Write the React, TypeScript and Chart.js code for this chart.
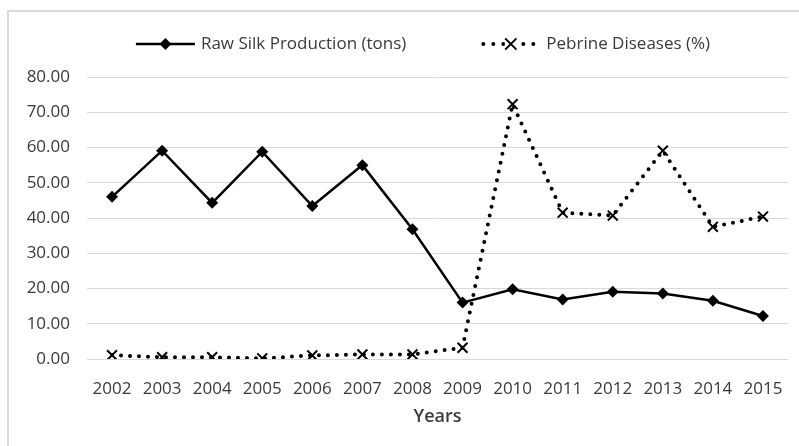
import React, { useEffect, useRef } from "react";
import { Chart, registerables } from "chart.js";

Chart.register(...registerables);

const years = ["2002", "2003", "2004", "2005", "2006", "2007", "2008", "2009", "2010", "2011", "2012", "2013", "2014", "2015"];
const rawSilk = [46.0, 59.1, 44.3, 58.8, 43.4, 55.0, 36.8, 16.0, 19.8, 16.9, 19.1, 18.6, 16.5, 12.2];
const pebrine = [1.1, 0.5, 0.5, 0.2, 1.0, 1.3, 1.3, 3.2, 72.3, 41.5, 40.7, 59.1, 37.5, 40.4];
const seriesLabels = ["Raw Silk Production (tons)", "Pebrine Diseases (%)"];
const xTitle = "Years";
const yMin = 0;
const yMax = 80;
const yStep = 10;

const FONT = "'Open Sans', 'Noto Sans', sans-serif";
const TEXT = "#3a3a3a";

function drawDiamond(ctx: CanvasRenderingContext2D, x: number, y: number, r: number) {
  ctx.beginPath();
  ctx.moveTo(x, y - r);
  ctx.lineTo(x + r, y);
  ctx.lineTo(x, y + r);
  ctx.lineTo(x - r, y);
  ctx.closePath();
  ctx.fill();
}

function drawCross(ctx: CanvasRenderingContext2D, x: number, y: number, r: number) {
  const d = r * Math.SQRT1_2;
  ctx.beginPath();
  ctx.moveTo(x - d, y - d);
  ctx.lineTo(x + d, y + d);
  ctx.moveTo(x + d, y - d);
  ctx.lineTo(x - d, y + d);
  ctx.stroke();
}

const legendPlugin = {
  id: "customLegend",
  afterDraw(chart: any) {
    const ctx: CanvasRenderingContext2D = chart.ctx;
    ctx.save();
    ctx.font = `17px ${FONT}`;
    const dsets = chart.data.datasets;
    const symW = 59;
    const gap = 6;
    const itemGap = 75;
    const widths = dsets.map((d: any) => ctx.measureText(d.label).width);
    const total = widths.reduce((s: number, w: number) => s + symW + gap + w, 0) + itemGap * (dsets.length - 1);
    let x = 423 - total / 2;
    const y = 44;
    dsets.forEach((ds: any, i: number) => {
      ctx.strokeStyle = "#000";
      ctx.fillStyle = "#000";
      ctx.lineWidth = ds.borderWidth;
      ctx.lineCap = ds.borderCapStyle || "butt";
      if (ds.borderDash) {
        ctx.setLineDash([0, 10]);
        ctx.beginPath();
        ctx.moveTo(x + 2, y);
        ctx.lineTo(x + symW, y);
        ctx.stroke();
      } else {
        ctx.setLineDash([]);
        ctx.beginPath();
        ctx.moveTo(x, y);
        ctx.lineTo(x + symW, y);
        ctx.stroke();
      }
      ctx.setLineDash([]);
      ctx.lineCap = "butt";
      const cx = x + symW / 2;
      if (ds.pointStyle === "rectRot") {
        drawDiamond(ctx, cx, y, 6);
      } else {
        ctx.fillStyle = "#fff";
        ctx.fillRect(cx - 6, y - 6, 12, 12);
        ctx.lineWidth = ds.pointBorderWidth;
        drawCross(ctx, cx, y, 8);
      }
      ctx.fillStyle = TEXT;
      ctx.textBaseline = "middle";
      ctx.textAlign = "left";
      ctx.fillText(ds.label, x + symW + gap, y);
      x += symW + gap + widths[i] + itemGap;
    });
    ctx.restore();
  },
};

export default function App() {
  const ref = useRef<HTMLCanvasElement>(null);

  useEffect(() => {
    if (!ref.current) return;
    Chart.defaults.font.family = FONT;
    const chart = new Chart(ref.current, {
      type: "line",
      data: {
        labels: years,
        datasets: [
          {
            label: seriesLabels[0],
            data: rawSilk,
            borderColor: "#000",
            backgroundColor: "#000",
            borderWidth: 2.5,
            pointStyle: "rectRot",
            pointRadius: 6,
            pointBorderWidth: 0,
            pointBackgroundColor: "#000",
            pointBorderColor: "#000",
            tension: 0,
          } as any,
          {
            label: seriesLabels[1],
            data: pebrine,
            borderColor: "#000",
            backgroundColor: "#000",
            borderWidth: 4,
            borderDash: [0, 9],
            borderCapStyle: "round",
            pointStyle: "crossRot",
            pointRadius: 7,
            pointBorderWidth: 2,
            pointBorderColor: "#000",
            tension: 0,
          } as any,
        ],
      },
      options: {
        animation: false,
        responsive: false,
        devicePixelRatio: 1,
        layout: { padding: { top: 77, right: 11, left: 0, bottom: 0 } },
        plugins: {
          legend: { display: false },
          tooltip: { enabled: false },
        },
        scales: {
          x: {
            offset: true,
            grid: { display: false },
            border: { display: false },
            ticks: { color: TEXT, font: { size: 17 }, padding: 12, maxRotation: 0, autoSkip: false },
            title: {
              display: true,
              text: xTitle,
              color: TEXT,
              font: { size: 18, weight: 600 },
              padding: { top: 0, bottom: 18 },
            },
            afterFit: (scale: any) => {
              scale.height = 87;
            },
          },
          y: {
            min: yMin,
            max: yMax,
            grid: { color: "#d9d9d9", lineWidth: 1, drawTicks: false },
            border: { display: false },
            ticks: {
              stepSize: yStep,
              color: TEXT,
              font: { size: 17 },
              padding: 17,
              callback: (v: any) => Number(v).toFixed(2),
            },
            afterFit: (scale: any) => {
              scale.width = 87;
            },
          },
        },
      },
      plugins: [legendPlugin],
    });
    return () => chart.destroy();
  }, []);

  return (
    <div style={{ position: "fixed", left: 0, top: 0, width: 799, height: 446, background: "#fff", overflow: "hidden" }}>
      <div
        style={{
          position: "absolute",
          left: 7,
          top: 10,
          width: 900,
          height: 600,
          borderLeft: "2px solid #d9d9d9",
          borderTop: "2px solid #d9d9d9",
        }}
      />
      <canvas ref={ref} width={799} height={446} style={{ position: "absolute", left: 0, top: 0 }} />
    </div>
  );
}
